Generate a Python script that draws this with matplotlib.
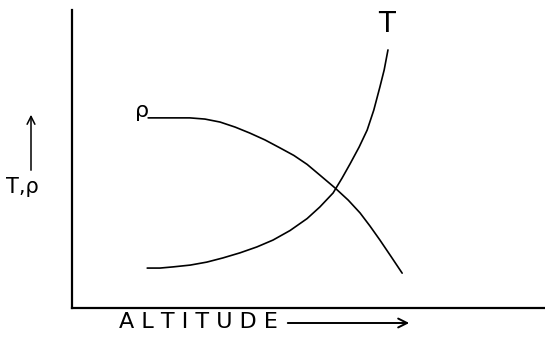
import matplotlib.pyplot as plt
from matplotlib.patches import FancyArrowPatch

# altitude (arbitrary units, 0-100) and normalised T / rho values
rho_alt = [16.1, 20.7, 24.9, 28.1, 31.3, 34.5, 37.6, 40.8, 44.0, 46.9, 49.7, 52.4,
           55.6, 58.4, 60.9, 63.0, 65.1, 67.4, 69.8]
rho_val = [63.8, 63.8, 63.8, 63.4, 62.4, 60.7, 58.7, 56.4, 53.7, 51.2, 48.2, 44.6,
           40.3, 36.2, 31.9, 27.5, 22.8, 17.4, 11.7]
t_alt = [15.9, 18.6, 21.4, 25.0, 28.5, 31.9, 35.5, 39.1, 42.5, 46.1, 49.7, 52.4,
         55.2, 57.1, 58.8, 60.7, 62.4, 63.8, 65.1, 66.0, 66.8]
t_val = [13.4, 13.4, 13.8, 14.4, 15.4, 16.8, 18.5, 20.5, 22.8, 26.0, 30.0, 33.9,
         38.6, 43.6, 48.4, 54.0, 59.7, 66.4, 74.2, 79.9, 86.6]

W, H = 545, 338
fig = plt.figure(figsize=(W / 100, H / 100), dpi=100)
ax = fig.add_axes([72 / W, 30 / H, (W - 72) / W, 298 / H])

ax.plot(rho_alt, rho_val, color='black', lw=1.2, solid_capstyle='round')
ax.plot(t_alt, t_val, color='black', lw=1.2, solid_capstyle='round')
ax.set_xlim(0, 100)
ax.set_ylim(0, 100)

for side in ['top', 'right']:
    ax.spines[side].set_visible(False)
for side in ['left', 'bottom']:
    ax.spines[side].set_linewidth(1.6)
ax.set_xticks([])
ax.set_yticks([])

# curve labels
ax.text(rho_alt[0] + 0.3, rho_val[0] - 1, 'ρ', fontsize=16, ha='right', va='bottom')
ax.text(t_alt[-1] - 0.2, t_val[-1] + 4, 'T', fontsize=20, ha='center', va='bottom')


# axis labels in pixel space
def px(x, y):
    return x / W, 1 - y / H


fig.text(*px(22, 187), 'T,ρ', fontsize=15, ha='center', va='center')
fig.patches.append(FancyArrowPatch(
    px(31, 173), px(31, 112), transform=fig.transFigure,
    arrowstyle='->', mutation_scale=14, color='black', lw=1.1))

fig.text(*px(198, 322), 'A L T I T U D E', fontsize=16, ha='center', va='center')
fig.patches.append(FancyArrowPatch(
    px(285, 323), px(412, 323), transform=fig.transFigure,
    arrowstyle='->', mutation_scale=16, color='black', lw=1.4))

fig.savefig('out.png', dpi=100)
